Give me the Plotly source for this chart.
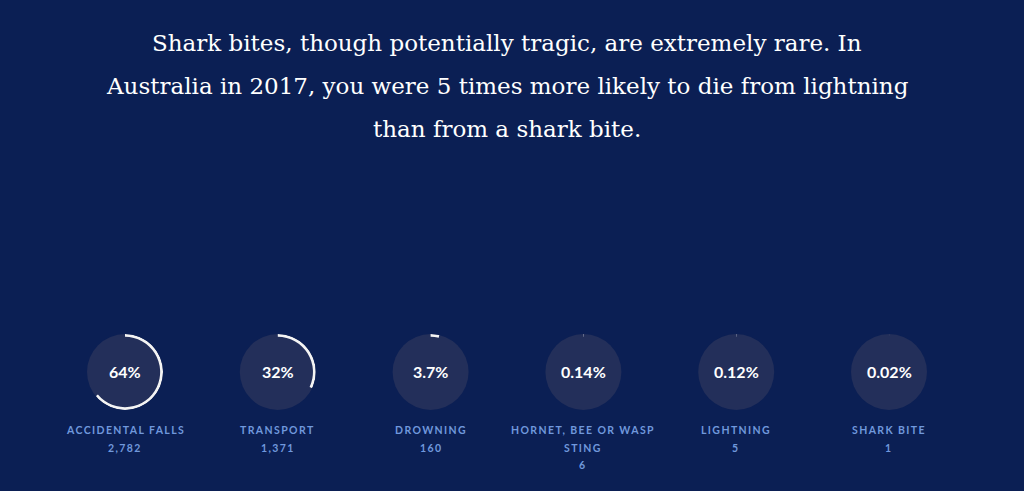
import plotly.graph_objects as go

# ---- data ----
title_lines = [
    "Shark bites, though potentially tragic, are extremely rare. In",
    "Australia in 2017, you were 5 times more likely to die from lightning",
    "than from a shark bite.",
]
categories = ["ACCIDENTAL FALLS", "TRANSPORT", "DROWNING",
              "HORNET, BEE OR WASP STING", "LIGHTNING", "SHARK BITE"]
percents = [64, 32, 3.7, 0.14, 0.12, 0.02]
pct_labels = ["64%", "32%", "3.7%", "0.14%", "0.12%", "0.02%"]
deaths = [2782, 1371, 160, 6, 5, 1]

# ---- style / layout ----
W, H = 1024, 491
BG = "#0b1f54"
DISC = "#232f5a"
LABEL_C = "#7098dc"
R_PX = 38
CY = 372
X0, DX = 125, 152.8


def wrap(text, maxlen=20):
    words, lines, cur = text.split(), [], ""
    for w in words:
        if cur and len(cur) + 1 + len(w) > maxlen:
            lines.append(cur)
            cur = w
        else:
            cur = (cur + " " + w).strip()
    lines.append(cur)
    return lines


def py(ypx):
    return (H - ypx) / H


fig = go.Figure()
annotations = []

for i, (cat, p, pl, d) in enumerate(zip(categories, percents, pct_labels, deaths)):
    key = "polar" if i == 0 else f"polar{i+1}"
    cx = X0 + DX * i
    fig.add_trace(go.Barpolar(
        r=[0.075], base=[0.925], theta=[p * 3.6 / 2], width=[p * 3.6],
        marker=dict(color="#f4f4f4", line=dict(width=0)),
        subplot=key, hoverinfo="skip", showlegend=False,
    ))
    fig.layout[key] = dict(
        domain=dict(x=[(cx - R_PX) / W, (cx + R_PX) / W],
                    y=[py(CY + R_PX), py(CY - R_PX)]),
        bgcolor=DISC,
        hole=0,
        radialaxis=dict(visible=False, range=[0, 1]),
        angularaxis=dict(visible=False, rotation=90, direction="clockwise"),
    )
    annotations.append(dict(
        x=cx / W, y=py(371), xref="paper", yref="paper",
        text=f"<b>{pl}</b>", showarrow=False,
        font=dict(family="Lato", size=16, color="#ffffff"),
        xanchor="center", yanchor="middle"))
    lines = wrap(cat) + [f"{d:,}"]
    for j, ln in enumerate(lines):
        annotations.append(dict(
            x=cx / W, y=py(430 + 17.5 * j), xref="paper", yref="paper",
            text=f"<b><span style='letter-spacing:1.4px'>{ln}</span></b>",
            showarrow=False,
            font=dict(family="Lato", size=10.5, color=LABEL_C),
            xanchor="center", yanchor="middle"))

for k, t in enumerate(title_lines):
    annotations.append(dict(
        x=507 / W, y=py(43 + 43 * k), xref="paper", yref="paper",
        text=t, showarrow=False,
        font=dict(family="DejaVu Serif", size=23, color="#ffffff"),
        xanchor="center", yanchor="middle"))

fig.update_layout(
    width=W, height=H,
    margin=dict(l=0, r=0, t=0, b=0),
    paper_bgcolor=BG, plot_bgcolor=BG,
    annotations=annotations,
    showlegend=False,
)

fig.write_html(
    "out.html",
    config={"displayModeBar": False},
    post_script="document.body.style.margin='0';document.body.style.background='#0b1f54';",
)
